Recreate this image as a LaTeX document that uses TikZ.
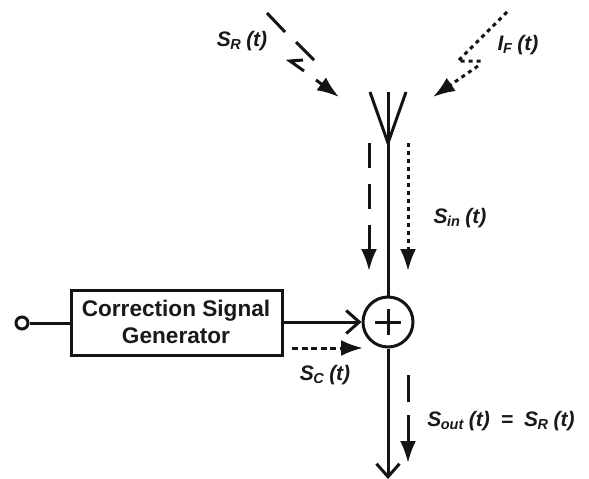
\documentclass[tikz,border=0pt]{standalone}
\usepackage{fontspec}
\setmainfont{Liberation Sans}
\usetikzlibrary{arrows.meta}
\newcommand{\lblsub}[1]{\kern-0.5pt\raisebox{-3.5pt}{\fontsize{14.5}{15}\selectfont #1}}
\newcommand{\lblt}{\kern5.5pt(t)}
\tikzset{
  wire/.style={line width=3pt,draw=black!92},
  thin wire/.style={line width=3pt,draw=black!92},
  longdash/.style={thin wire,dash pattern=on 25pt off 16pt},
  dotline/.style={thin wire,dash pattern=on 4pt off 4pt},
  solidhead/.style={-{Latex[length=22pt,width=16pt]}},
  openhead/.style={-{Straight Barb[length=13pt,width=23pt,line width=3pt]}},
  lbl/.style={font=\fontsize{21}{24}\selectfont\bfseries\itshape,inner sep=0pt,text=black!90},
  boxlbl/.style={font=\fontsize{22.6}{26.5}\selectfont\bfseries,align=center,inner sep=0pt,text=black!90},
}
\begin{document}
\begin{tikzpicture}[x=1pt,y=-1pt]
\useasboundingbox (0,0) rectangle (589,479);
% coordinates
\coordinate (tip) at (388,143);
\coordinate (armL) at (370,92);
\coordinate (armM) at (388,92);
\coordinate (armR) at (406,92);
\coordinate (outEnd) at (388,479);
% blocks
\node[draw=black!92,line width=3pt,minimum width=211pt,minimum height=65pt,inner sep=0pt] (gen) at (176.5,323) {};
\node[boxlbl] (genT) at (176,322) {Correction Signal\\Generator};
\node[draw=black!92,line width=3pt,circle,minimum size=50pt,inner sep=0pt] (sum) at (388,322) {};
\node[draw=black!92,line width=3pt,circle,minimum size=12pt,inner sep=0pt] (in) at (22,323) {};
% antenna
\draw[wire] (armL) -- (tip) -- (armR);
\draw[wire] (armM) -- (sum.north);
% plus
\draw[wire] (sum.center) ++(-13,0) -- ++(26,0);
\draw[wire] (sum.center) ++(0,-13) -- ++(0,26);
% main connectors
\draw[wire] (in) -- (gen.west |- in);
\draw[wire,openhead] (gen.east |- sum) -- (sum.west);
\draw[wire,openhead] (sum.south) -- (outEnd);
% S_R incident
\coordinate (sa) at (267,13);\coordinate (sb) at (285,32);
\coordinate (sc) at (296,42);\coordinate (sd) at (314,60);
\coordinate (se) at (303,60);\coordinate (sf) at (290,61);\coordinate (sg) at (304,71);
\coordinate (sh) at (316,80);\coordinate (si) at (339,97);
\draw[thin wire] (sa) -- (sb);
\draw[thin wire] (sc) -- (sd);
\draw[thin wire] (se) -- (sf) -- (sg);
\draw[thin wire,solidhead] (sh) -- (si);
% I_F incident
\coordinate (ia) at (507,12);\coordinate (ib) at (458,61);\coordinate (ic) at (484,61);
\coordinate (id) at (478,66);\coordinate (ie) at (433,97);
\draw[dotline] (ia) -- (ib) -- (ic);
\draw[dotline,solidhead] (id) -- (ie);
% S_in arrows
\coordinate (da) at (369,143);\coordinate (db) at (369,271);
\coordinate (dc) at (408,143);\coordinate (dd) at (408,271);
\draw[longdash,solidhead] (da) -- (db);
\draw[dotline,solidhead] (dc) -- (dd);
% S_C arrow
\coordinate (ca) at (292,348);\coordinate (cb) at (363,348);
\draw[thin wire,dash pattern=on 6pt off 3.5pt,solidhead] (ca) -- (cb);
% S_out arrow
\coordinate (oa) at (408,375);\coordinate (ob) at (408,402);
\coordinate (oc) at (408,415);\coordinate (od) at (408,463);
\draw[thin wire] (oa) -- (ob);
\draw[thin wire,solidhead] (oc) -- (od);
% labels
\node[lbl] (lsr) at (242,41) {S\lblsub{R}\lblt};
\node[lbl] (lif) at (518,45) {I\lblsub{F}\lblt};
\node[lbl] (lin) at (460,218) {S\lblsub{in}\lblt};
\node[lbl] (lc) at (325,375) {S\lblsub{C}\lblt};
\node[lbl] (lo) at (501,421) {S\lblsub{out}\lblt\kern11pt=\kern11pt S\lblsub{R}\lblt};
\end{tikzpicture}
\end{document}
